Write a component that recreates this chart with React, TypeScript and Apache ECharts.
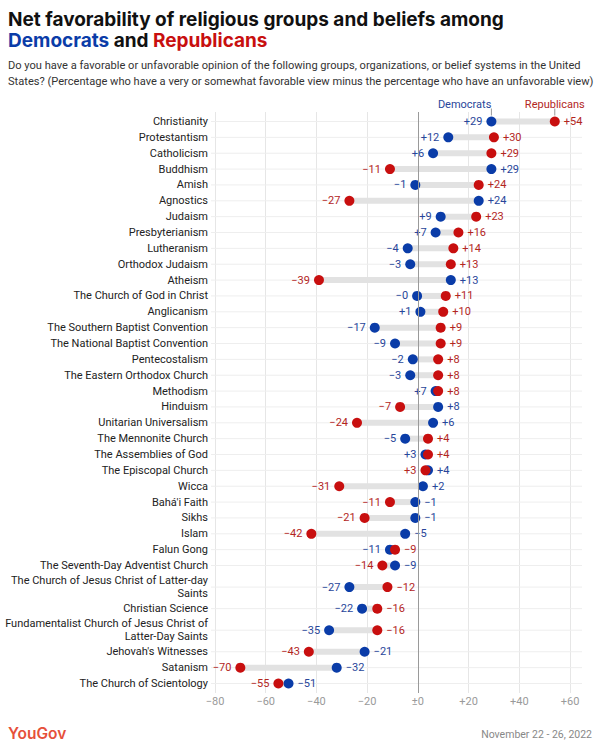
import React, { useEffect, useRef } from "react";
import * as echarts from "echarts";

const categories = [
  "Christianity",
  "Protestantism",
  "Catholicism",
  "Buddhism",
  "Amish",
  "Agnostics",
  "Judaism",
  "Presbyterianism",
  "Lutheranism",
  "Orthodox Judaism",
  "Atheism",
  "The Church of God in Christ",
  "Anglicanism",
  "The Southern Baptist Convention",
  "The National Baptist Convention",
  "Pentecostalism",
  "The Eastern Orthodox Church",
  "Methodism",
  "Hinduism",
  "Unitarian Universalism",
  "The Mennonite Church",
  "The Assemblies of God",
  "The Episcopal Church",
  "Wicca",
  "Bahá'i Faith",
  "Sikhs",
  "Islam",
  "Falun Gong",
  "The Seventh-Day Adventist Church",
  "The Church of Jesus Christ of Latter-day\nSaints",
  "Christian Science",
  "Fundamentalist Church of Jesus Christ of\nLatter-Day Saints",
  "Jehovah's Witnesses",
  "Satanism",
  "The Church of Scientology",
];

const democrats = [
  29, 12, 6, 29, -1, 24, 9, 7, -4, -3, 13, -0.3, 1, -17, -9, -2, -3, 7, 8, 6, -5, 3, 4, 2, -1, -1, -5, -11, -9,
  -27, -22, -35, -21, -32, -51,
];

const republicans = [
  54, 30, 29, -11, 24, -27, 23, 16, 14, 13, -39, 11, 10, 9, 9, 8, 8, 8, -7, -24, 4, 4, 3, -31, -11, -21, -42, -9,
  -14, -12, -16, -16, -43, -70, -55,
];

const xTicks = [-80, -60, -40, -20, 0, 20, 40, 60];

const FONT = "Roboto";
const TITLE_FONT = "Inter";
const DEM_DOT = "#0a3ca8";
const REP_DOT = "#c80f0f";
const DEM_TEXT = "#28469a";
const REP_TEXT = "#b3261e";

// Row positions: two-line labels take extra room
const positions: number[] = [];
categories.forEach((c, i) => {
  if (i === 0) positions.push(0);
  else {
    const extra = c.includes("\n") || categories[i - 1].includes("\n") ? 0.36 : 0;
    positions.push(positions[i - 1] + 1 + extra);
  }
});

const fmt = (v: number) => {
  const r = Math.round(v);
  if (v < 0) return "\u2212" + Math.abs(r);
  if (v > 0) return "+" + r;
  return "\u00b10";
};

export default function App() {
  const ref = useRef<HTMLDivElement>(null);
  useEffect(() => {
    document.body.style.margin = "0";
    const chart = echarts.init(ref.current!, null, { renderer: "svg" });
    const last = positions[positions.length - 1];

    const demData = categories.map((c, i) => ({
      value: [democrats[i], positions[i]],
      label: { position: democrats[i] < republicans[i] ? "left" : "right" },
    }));
    const repData = categories.map((c, i) => ({
      value: [republicans[i], positions[i]],
      label: { position: republicans[i] <= democrats[i] ? "left" : "right" },
    }));

    const titleBold = { fontFamily: TITLE_FONT, fontSize: 19, fontWeight: "bold", lineHeight: 20 };

    chart.setOption({
      animation: false,
      backgroundColor: "#ffffff",
      textStyle: { fontFamily: FONT },
      title: [
        {
          text: "Net favorability of religious groups and beliefs among",
          left: 8,
          top: 9,
          padding: 0,
          textStyle: { ...titleBold, color: "#111111" },
        },
        {
          text: "{d|Democrats} and {r|Republicans}",
          left: 8,
          top: 30,
          padding: 0,
          textStyle: {
            ...titleBold,
            color: "#111111",
            rich: {
              d: { ...titleBold, color: DEM_DOT },
              r: { ...titleBold, color: REP_DOT },
            },
          },
        },
        {
          text:
            "Do you have a favorable or unfavorable opinion of the following groups, organizations, or belief systems in the United\nStates? (Percentage who have a very or somewhat favorable view minus the percentage who have an unfavorable view)",
          left: 8,
          top: 57,
          padding: 0,
          textStyle: { fontFamily: FONT, fontSize: 11.1, fontWeight: "normal", color: "#333333", lineHeight: 16.5 },
        },
        {
          text: "YouGov",
          left: 8,
          top: 725,
          padding: 0,
          textStyle: { fontFamily: TITLE_FONT, fontSize: 15.5, fontWeight: 600, color: "#e6503a" },
        },
        {
          text: "November 22 - 26, 2022",
          right: 8,
          top: 729,
          padding: 0,
          textStyle: { fontFamily: FONT, fontSize: 10.5, fontWeight: "normal", color: "#888888" },
        },
      ],
      grid: { left: 215, right: 30, top: 112, bottom: 58, containLabel: false },
      xAxis: {
        type: "value",
        min: -80,
        max: 60,
        interval: 20,
        axisLine: { show: false },
        axisTick: { show: false },
        axisLabel: {
          color: "#9a9a9a",
          fontSize: 11,
          fontFamily: FONT,
          margin: 3,
          formatter: (v: number) => (xTicks.includes(v) ? fmt(v) : ""),
        },
        splitLine: { show: true, lineStyle: { color: "#e6e6e6", width: 1 } },
      },
      yAxis: {
        type: "value",
        inverse: true,
        min: -0.6,
        max: last + 0.6,
        axisLine: { show: false },
        axisTick: { show: false },
        splitLine: { show: false },
        axisLabel: {
          customValues: positions,
          color: "#222222",
          fontSize: 11,
          fontFamily: FONT,
          margin: 7,
          lineHeight: 13,
          formatter: (v: number) => {
            const idx = positions.findIndex((p) => Math.abs(p - v) < 1e-6);
            return idx >= 0 ? categories[idx] : "";
          },
        },
      },
      series: [
        {
          type: "custom",
          name: "rows",
          silent: true,
          z: 1,
          data: categories.map((c, i) => [democrats[i], republicans[i], positions[i]]),
          encode: { x: [0, 1], y: 2 },
          renderItem: (params: any, api: any) => {
            const cs = params.coordSys;
            const y = api.coord([0, api.value(2)])[1];
            const xa = api.coord([api.value(0), api.value(2)])[0];
            const xb = api.coord([api.value(1), api.value(2)])[0];
            return {
              type: "group",
              children: [
                {
                  type: "line",
                  shape: { x1: cs.x - 4, y1: y, x2: cs.x + cs.width + 12, y2: y },
                  style: { stroke: "#eeeeee", lineWidth: 1 },
                },
                {
                  type: "line",
                  shape: { x1: Math.min(xa, xb), y1: y, x2: Math.max(xa, xb), y2: y },
                  style: { stroke: "#e2e2e2", lineWidth: 6 },
                },
              ],
            };
          },
          markLine: {
            silent: true,
            symbol: "none",
            label: { show: false },
            lineStyle: { color: "#9a9a9a", width: 1, type: "solid" },
            data: [{ xAxis: 0 }],
          },
        },
        {
          type: "scatter",
          name: "Democrats",
          z: 3,
          symbolSize: 10,
          itemStyle: { color: DEM_DOT, opacity: 1 },
          label: {
            show: true,
            distance: 4,
            color: DEM_TEXT,
            fontSize: 11,
            fontFamily: FONT,
            formatter: (p: any) => fmt(p.value[0]),
          },
          data: demData,
        },
        {
          type: "scatter",
          name: "Republicans",
          z: 4,
          symbolSize: 10,
          itemStyle: { color: REP_DOT, opacity: 1 },
          label: {
            show: true,
            distance: 4,
            color: REP_TEXT,
            fontSize: 11,
            fontFamily: FONT,
            formatter: (p: any) => fmt(p.value[0]),
          },
          data: repData,
        },
        {
          type: "custom",
          name: "legend",
          silent: true,
          z: 5,
          data: [[democrats[0], republicans[0], positions[0]]],
          encode: { x: [0, 1], y: 2 },
          renderItem: (params: any, api: any) => {
            const d = api.coord([api.value(0), api.value(2)]);
            const r = api.coord([api.value(1), api.value(2)]);
            return {
              type: "group",
              children: [
                {
                  type: "line",
                  shape: { x1: d[0], y1: d[1] - 13, x2: d[0], y2: d[1] - 6 },
                  style: { stroke: "#999999", lineWidth: 1 },
                },
                {
                  type: "line",
                  shape: { x1: r[0], y1: r[1] - 13, x2: r[0], y2: r[1] - 6 },
                  style: { stroke: "#999999", lineWidth: 1 },
                },
                {
                  type: "text",
                  x: d[0],
                  y: d[1] - 17,
                  style: {
                    text: "Democrats",
                    fill: DEM_TEXT,
                    fontSize: 11,
                    fontFamily: FONT,
                    align: "right",
                    verticalAlign: "middle",
                  },
                },
                {
                  type: "text",
                  x: r[0],
                  y: r[1] - 17,
                  style: {
                    text: "Republicans",
                    fill: REP_TEXT,
                    fontSize: 11,
                    fontFamily: FONT,
                    align: "center",
                    verticalAlign: "middle",
                  },
                },
              ],
            };
          },
        },
      ],
    });
    return () => chart.dispose();
  }, []);
  return <div ref={ref} style={{ width: 600, height: 751 }} />;
}
